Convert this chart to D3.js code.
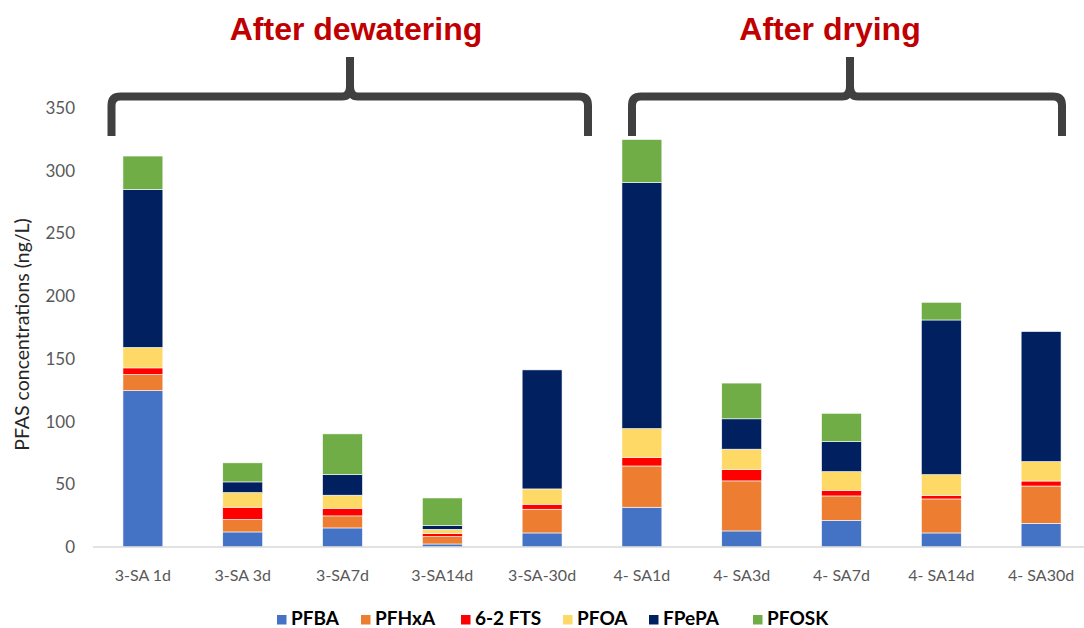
<!DOCTYPE html>
<html>
<head>
<meta charset="utf-8">
<script src="https://cdn.jsdelivr.net/npm/d3@7"></script>
<style>
  html, body { margin: 0; padding: 0; background: #fff; }
  svg { display: block; }
</style>
</head>
<body>
<svg id="chart" width="1084" height="628"></svg>
<script>
// ---- Data ----
const categories = ["3-SA 1d","3-SA 3d","3-SA7d","3-SA14d","3-SA-30d","4- SA1d","4- SA3d","4- SA7d","4- SA14d","4- SA30d"];
const seriesNames = ["PFBA","PFHxA","6-2 FTS","PFOA","FPePA","PFOSK"];
const PFBA   = [124.7, 12.0, 15.2, 2.4, 11.2, 31.7, 12.8, 21.3, 11.2, 18.9];
const PFHxA  = [12.8, 9.9, 9.6, 5.9, 18.9, 32.9, 39.9, 19.4, 27.1, 29.7];
const FTS62  = [5.3, 9.8, 6.1, 2.4, 4.0, 6.9, 9.1, 4.5, 2.9, 4.0];
const PFOA   = [16.3, 11.7, 10.4, 3.4, 12.2, 22.9, 16.2, 14.9, 16.5, 15.5];
const FPePA  = [126.0, 8.5, 16.5, 3.2, 94.9, 196.2, 24.2, 23.9, 123.3, 103.7];
const PFOSK  = [26.6, 15.2, 32.4, 21.8, 0, 34.3, 28.5, 22.6, 14.1, 0];
const yTicks = [0, 50, 100, 150, 200, 250, 300, 350];
const groupLabels = ["After dewatering", "After drying"];
const colors = ["#4472C4", "#ED7D31", "#FF0000", "#FFD966", "#002060", "#70AD47"];

const seriesValues = [PFBA, PFHxA, FTS62, PFOA, FPePA, PFOSK];
const table = categories.map((c, i) => {
  const row = { cat: c };
  seriesNames.forEach((s, j) => row[s] = seriesValues[j][i]);
  return row;
});

// ---- Layout ----
const svg = d3.select("#chart");
const plotLeft = 93, plotRight = 1091, plotTop = 108, plotBottom = 547;
const uiFont = "Lato, 'Open Sans', sans-serif";

const x = d3.scaleBand().domain(categories).range([plotLeft, plotRight])
  .paddingInner(0.6).paddingOuter(0.3);
const y = d3.scaleLinear().domain([0, 350]).range([plotBottom, plotTop]);
const color = d3.scaleOrdinal().domain(seriesNames).range(colors);

const stacked = d3.stack().keys(seriesNames)(table);

// bars
svg.append("g").selectAll("g").data(stacked).join("g")
  .attr("fill", d => color(d.key))
  .selectAll("rect").data(d => d).join("rect")
  .attr("x", d => x(d.data.cat))
  .attr("width", x.bandwidth())
  .attr("y", d => y(d[1]))
  .attr("height", d => Math.max(0, y(d[0]) - y(d[1])))
  .attr("stroke", "#ffffff")
  .attr("stroke-width", 0.6);

// x axis line
const xAxis = svg.append("g").attr("transform", `translate(0,${plotBottom})`)
  .call(d3.axisBottom(x).tickSize(0).tickPadding(23));
xAxis.select(".domain").attr("stroke", "#d9d9d9").attr("stroke-width", 1.5)
  .attr("d", `M${plotLeft},0H${plotRight}`);
xAxis.selectAll("text").attr("fill", "#595959").attr("font-size", 16)
  .attr("font-family", uiFont);

// y axis (labels only)
const yAxis = svg.append("g").attr("transform", `translate(75,0)`)
  .call(d3.axisLeft(y).tickValues(yTicks).tickSize(0).tickPadding(0));
yAxis.select(".domain").remove();
yAxis.selectAll("text").attr("fill", "#595959").attr("font-size", 17)
  .attr("font-family", uiFont);

// y title
svg.append("text")
  .attr("transform", `translate(29,${(plotTop + plotBottom) / 2 + 7}) rotate(-90)`)
  .attr("text-anchor", "middle")
  .attr("font-family", uiFont).attr("font-size", 19.5).attr("fill", "#262626")
  .text("PFAS concentrations (ng/L)");

// braces
function brace(x0, xm, x1, yEnd, yBar, yTop) {
  const r = 9;
  return `M${x0},${yEnd} L${x0},${yBar + r} Q${x0},${yBar} ${x0 + r},${yBar}` +
    ` L${xm - 8},${yBar} Q${xm},${yBar} ${xm},${yBar - 10} L${xm},${yTop}` +
    ` M${xm},${yBar - 10} Q${xm},${yBar} ${xm + 8},${yBar}` +
    ` L${x1 - r},${yBar} Q${x1},${yBar} ${x1},${yBar + r} L${x1},${yEnd}`;
}
const braces = [
  { x0: 111.5, xm: 350, x1: 588, tx: 356 },
  { x0: 632, xm: 850, x1: 1062, tx: 830 }
];
svg.append("g").selectAll("path").data(braces).join("path")
  .attr("d", d => brace(d.x0, d.xm, d.x1, 136, 96.5, 57))
  .attr("fill", "none").attr("stroke", "#404040").attr("stroke-width", 8);

svg.append("g").selectAll("text").data(braces).join("text")
  .attr("x", d => d.tx).attr("y", 40)
  .attr("text-anchor", "middle")
  .attr("font-family", "'Liberation Sans', Arial, sans-serif")
  .attr("font-weight", "bold").attr("font-size", 32).attr("fill", "#C00000")
  .text((d, i) => groupLabels[i]);

// legend
const legendX = [277, 361, 461, 563, 649, 753];
const lg = svg.append("g").selectAll("g").data(seriesNames).join("g")
  .attr("transform", (d, i) => `translate(${legendX[i]},0)`);
lg.append("rect").attr("x", 0).attr("y", 615).attr("width", 9.5).attr("height", 9.5)
  .attr("fill", d => color(d));
lg.append("text").attr("x", 14).attr("y", 625)
  .attr("font-family", uiFont).attr("font-weight", "bold").attr("font-size", 19)
  .attr("fill", "#000").text(d => d);
</script>
</body>
</html>
